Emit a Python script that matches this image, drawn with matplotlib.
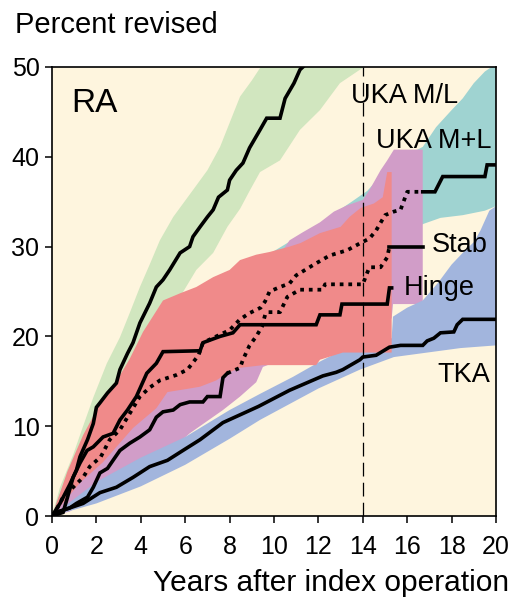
import matplotlib
matplotlib.use("Agg")
import matplotlib.pyplot as plt
import numpy as np

plt.rcParams["font.family"] = ["Liberation Sans", "DejaVu Sans"]

# ── colours ──
BG = "#FEF5DE"
GREEN = "#D1E6BF"
TEAL = "#9FD3D1"
PURPLE = "#D19DC8"
RED = "#F08A8A"
BLUE = "#A2B5DD"
INK = "#000000"

# ── data: UKA M/L (green) ──
UML_X = [0, 0.36, 0.8, 1.1, 1.26, 1.6, 1.86, 2.0, 2.16, 2.5, 2.9, 3.06, 3.4, 3.65, 3.96,
         4.4, 4.7, 5.0, 5.3, 5.77, 6.2, 6.35, 6.67, 7.0, 7.26, 7.5, 7.9, 8.0, 8.3, 8.6,
         8.9, 9.37, 9.67, 10.27, 10.5, 10.9, 11.17, 11.3]
UML_Y = [0, 1.4, 3.5, 5.1, 6.6, 8.5, 10.3, 12.1, 12.6, 13.7, 14.8, 16.3, 18.1, 19.3, 21.5,
         23.7, 25.5, 26.3, 27.4, 29.3, 30.0, 31.1, 32.2, 33.3, 34.1, 35.5, 36.3, 37.4, 38.5, 39.3,
         41.0, 43.0, 44.3, 44.3, 46.5, 48.2, 49.7, 50]
UML_HI_X = [0, 0.36, 0.95, 1.4, 1.86, 2.47, 3.06, 3.5, 3.96, 4.4, 4.86, 5.46, 6.35, 7.0, 7.57,
            8.47, 9.0, 9.4]
UML_HI_Y = [0, 3.2, 6.8, 10.0, 13.2, 17.0, 19.9, 22.6, 25.5, 28.0, 30.7, 33.3, 36.3, 38.5, 41.1,
            46.7, 48.5, 50]
UML_LO_X = [0, 1, 2, 3, 4, 5, 5.77, 6.5, 7.26, 7.9, 8.47, 8.9, 9.37, 10.27, 11.17, 12.07,
            12.97, 13.87, 14.1]
UML_LO_Y = [0, 1.5, 6.0, 10.0, 15.0, 20.0, 24.4, 27.4, 29.3, 32.2, 34.2, 36.2, 38.3, 39.6, 43.0, 45.2,
            48.2, 49.7, 50]

# ── UKA M+L (teal) ──
UMPL_X = [0, 0.2, 0.5, 1.4, 1.7, 2.2, 2.6, 3.06, 3.4, 3.96, 4.4, 4.86, 5.6, 6.1, 6.35, 6.6,
          6.8, 7.4, 8.0, 8.47, 8.9, 9.4, 9.6, 9.8, 10.27, 10.7, 11.0, 11.8, 12.5, 13.3, 13.9,
          14.3, 14.6, 15.0, 15.4, 15.7, 16.0, 16.7]
UMPL_Y = [0, 0.7, 2.1, 4.3, 5.5, 6.6, 8.5, 9.6, 11.0, 13.3, 14.3, 15.1, 15.7, 16.3, 17.1, 17.9,
          19.3, 20.0, 20.7, 21.9, 22.6, 23.2, 23.9, 25.0, 25.5, 25.9, 26.8, 28.0, 29.0, 29.6, 30.4,
          30.9, 31.8, 33.5, 33.9, 34.1, 36.1, 36.1]
UMPL_END_X = [16.7, 17.25, 17.6, 19.5, 19.6, 20]
UMPL_END_Y = [36.1, 36.1, 37.8, 37.8, 39.1, 39.1]
UMPL_HI_X = [0, 0.5, 1.0, 2, 4, 6, 8, 10, 12, 13.5, 14.2, 15.4, 16.7, 17.3, 18.0, 18.5, 19.0,
             19.5, 19.8, 20]
UMPL_HI_Y = [0, 3.5, 6.0, 10, 17, 22, 26, 29.5, 32.5, 35.0, 36.2, 39.5, 41.1, 43.3, 45.2, 46.5,
             48.2, 49.5, 50, 50]
UMPL_LO_X = [0, 2, 4, 6, 8, 10, 12, 14, 16.7, 17.5, 18.5, 19.5, 20]
UMPL_LO_Y = [0, 4, 10, 13, 17, 21, 24, 27, 32.5, 33.2, 33.5, 34.0, 34.5]

# ── Stab (purple) ──
STAB_X = [0, 0.2, 0.8, 1.1, 1.6, 1.86, 2.16, 2.5, 2.75, 3.06, 3.5, 3.96, 4.4, 4.7, 5.0, 5.46,
          5.77, 6.2, 6.8, 7.0, 7.57, 7.7, 7.9]
STAB_Y = [0, 0.4, 0.9, 1.4, 2.1, 3.2, 4.8, 5.3, 6.2, 7.3, 8.1, 8.8, 9.6, 11.0, 11.6, 11.8,
          12.4, 12.7, 12.7, 13.3, 13.3, 15.4, 15.9]
STAB_MID_X = [7.9, 8.47, 8.6, 8.9, 9.2, 9.46, 9.6, 9.7, 10.27, 10.6, 11.17, 12.2, 12.3, 14.0,
              14.2, 14.3, 14.8, 15.1, 15.2]
STAB_MID_Y = [15.9, 16.5, 17.4, 19.0, 20.0, 21.1, 22.4, 22.7, 22.7, 24.4, 25.2, 25.2, 25.8, 25.8,
              27.1, 27.7, 27.7, 28.8, 30.0]
STAB_END_X = [15.2, 16.7]
STAB_END_Y = [30.0, 30.0]
STAB_HI_X = [0, 1.4, 3, 5.0, 6.67, 8, 9.8, 10.4, 10.7, 11.3, 12.07, 12.7, 13.3, 14.0, 14.3,
             14.8, 15.1, 15.4, 16.7]
STAB_HI_Y = [0, 5.0, 10.5, 15.0, 16.0, 22.0, 28.5, 29.6, 30.7, 31.6, 32.7, 33.9, 34.6, 35.2, 36.3,
             38.5, 39.6, 40.8, 40.8]
STAB_LO_X = [0, 0.8, 2.2, 3.4, 4.4, 5.2, 6.2, 7.7, 8.47, 9.2, 9.5, 12, 15.3, 15.36, 16.7]
STAB_LO_Y = [0, 0.5, 2.6, 4.3, 5.9, 7.0, 9.2, 11.8, 13.3, 14.9, 16.6, 19.0, 22.0, 23.6, 23.6]

# ── Hinge (red) ──
HINGE_X = [0, 0.5, 0.7, 0.95, 1.26, 1.58, 1.86, 2.3, 2.75, 3.06, 3.4, 3.8, 4.27, 4.7, 5.0,
           6.67, 6.8, 7.57, 8.15, 8.47, 11.9, 12.07, 12.97, 13.06, 15.1, 15.2, 15.3]
HINGE_Y = [0, 0.4, 2.1, 4.3, 5.9, 7.3, 7.7, 8.8, 9.2, 10.7, 11.8, 13.3, 15.9, 17.0, 18.3,
           18.4, 19.3, 20.0, 20.4, 21.3, 21.3, 22.4, 22.4, 23.6, 23.6, 25.4, 25.4]
HINGE_HI_X = [0, 0.7, 1.4, 2.16, 2.9, 3.5, 4.1, 5.0, 5.77, 6.5, 7.26, 8.0, 8.47, 9.2, 9.8,
              10.7, 11.2, 12.07, 13.0, 13.4, 13.9, 14.5, 14.9, 15.1, 15.3]
HINGE_HI_Y = [0, 5.0, 9.0, 12.5, 15.0, 17.5, 20.5, 24.0, 24.8, 25.5, 26.6, 27.4, 28.5, 29.1, 29.4,
              30.0, 30.4, 31.5, 32.2, 33.3, 34.3, 34.8, 35.5, 38.3, 38.3]
HINGE_LO_X = [0, 1.26, 2.3, 3.65, 4.7, 5.2, 6.2, 6.67, 7.4, 7.9, 8.47, 9.5, 11.9, 12.07, 13.1,
              15.3]
HINGE_LO_Y = [0, 3.7, 6.0, 9.8, 12.0, 13.8, 14.2, 14.4, 15.1, 15.9, 16.5, 16.8, 16.8, 17.4, 18.2,
              18.2]

# ── TKA (blue) ──
TKA_X = [0, 0.2, 1.4, 2.16, 2.9, 3.65, 4.4, 5.2, 5.9, 6.67, 7.7, 9.3, 10.7, 12.2, 12.8, 13.1,
         13.87, 14.0, 14.6, 15.2, 15.7, 16.7, 16.9, 17.2, 17.5, 18.1, 18.25, 18.5, 20]
TKA_Y = [0, 0.4, 1.4, 2.6, 3.2, 4.3, 5.5, 6.2, 7.3, 8.5, 10.4, 12.2, 14.0, 15.6, 16.0, 16.3,
         17.4, 17.7, 17.9, 18.8, 19.0, 19.0, 19.5, 19.8, 20.4, 20.5, 21.3, 21.9, 21.9]
TKA_HI_X = [0, 2, 4, 6, 8, 9.37, 10.86, 12.07, 13.1, 15.3, 15.36, 16.0, 16.7, 17.4, 18.0, 18.5,
            19.0, 19.3, 19.7, 20]
TKA_HI_Y = [0, 3.8, 6.5, 8.8, 11.8, 13.6, 15.5, 17.2, 18.5, 19.8, 22.2, 23.2, 24.0, 26.0, 28.0,
            29.3, 30.5, 31.8, 34.0, 34.5]
TKA_LO_X = [0, 2, 4, 6, 8, 9.37, 12, 13.87, 15.4, 16.9, 18.4, 20]
TKA_LO_Y = [0, 1.4, 3.3, 5.7, 8.6, 10.7, 14.2, 16.3, 17.7, 18.2, 18.7, 19.0]

X_TICKS = list(range(0, 21, 2))
Y_TICKS = list(range(0, 51, 10))

LABELS = [
    ("RA", 0.85, 45.0, 24),
    ("UKA M/L", 13.45, 46.0, 19.5),
    ("UKA M+L", 14.6, 41.0, 19.5),
    ("Stab", 17.1, 29.4, 19.5),
    ("Hinge", 15.85, 24.6, 19.5),
    ("TKA", 17.35, 14.9, 19.5),
]


def band(ax, hx, hy, lx, ly, color):
    xs = np.r_[hx, lx[::-1]]
    ys = np.r_[hy, ly[::-1]]
    ax.fill(xs, ys, color=color, linewidth=0)


fig = plt.figure(figsize=(5.15, 5.99), dpi=100)
ax = fig.add_axes([52 / 515, 1 - 516 / 599, 444 / 515, 449 / 599])
ax.set_facecolor(BG)

band(ax, UML_HI_X, UML_HI_Y, UML_LO_X, UML_LO_Y, GREEN)
band(ax, UMPL_HI_X, UMPL_HI_Y, UMPL_LO_X, UMPL_LO_Y, TEAL)
band(ax, STAB_HI_X, STAB_HI_Y, STAB_LO_X, STAB_LO_Y, PURPLE)
band(ax, TKA_HI_X, TKA_HI_Y, TKA_LO_X, TKA_LO_Y, BLUE)
band(ax, HINGE_HI_X, HINGE_HI_Y, HINGE_LO_X, HINGE_LO_Y, RED)

ax.axvline(14, color=INK, lw=0.9, ls=(0, (11, 5)), zorder=3)

solid = dict(color=INK, lw=2.6, solid_joinstyle="miter", zorder=4)
dotted = dict(color=INK, lw=2.7, ls=(0, (1, 1.3)), dash_capstyle="butt", zorder=4)

ax.plot(UML_X, UML_Y, **solid)
ax.plot(HINGE_X, HINGE_Y, **solid)
ax.plot(TKA_X, TKA_Y, **solid)
ax.plot(STAB_X, STAB_Y, **solid)
ax.plot(STAB_MID_X, STAB_MID_Y, **dotted)
ax.plot(STAB_END_X, STAB_END_Y, **solid)
ax.plot(UMPL_X, UMPL_Y, **dotted)
ax.plot(UMPL_END_X, UMPL_END_Y, **solid)

for txt, x, y, fs in LABELS:
    ax.text(x, y, txt, fontsize=fs, color=INK, ha="left", va="baseline", zorder=5)

ax.set_xlim(0, 20)
ax.set_ylim(0, 50)
ax.set_xticks(X_TICKS)
ax.set_yticks(Y_TICKS)
ax.tick_params(direction="out", length=5, width=1.1, labelsize=18, colors=INK)
ax.tick_params(axis="x", pad=9)
ax.tick_params(axis="y", pad=4)
for sp in ax.spines.values():
    sp.set_linewidth(1.2)
    sp.set_zorder(6)

fig.text(15 / 515, 1 - 33 / 599, "Percent revised", fontsize=21, ha="left", va="baseline")
fig.text(509 / 515, 1 - 591 / 599, "Years after index operation", fontsize=21.5,
         ha="right", va="baseline")

fig.savefig("out.png", dpi=100, facecolor="white")
plt.close(fig)
